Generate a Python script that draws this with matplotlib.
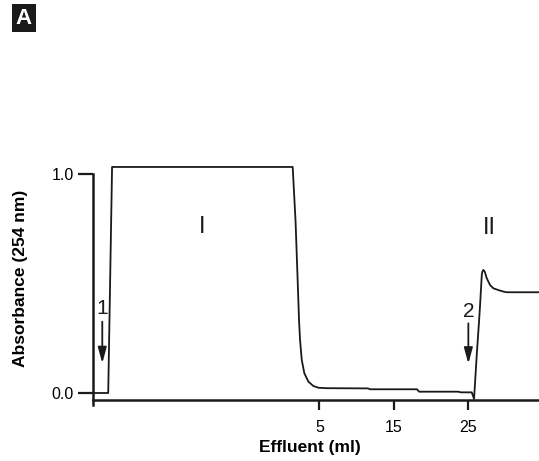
import matplotlib
matplotlib.use("Agg")
import matplotlib.pyplot as plt
from matplotlib.patches import Rectangle

plt.rcParams['font.family'] = ['Liberation Sans', 'DejaVu Sans']

# Chromatogram trace (effluent ml, absorbance at 254 nm)
effluent_ml = [-25.46, -23.45, -22.93, 1.41, 1.80, 2.17, 2.26, 2.40, 2.63, 2.98, 3.52,
               4.19, 4.87, 5.99, 11.56, 11.83, 18.17, 18.44, 23.69, 24.09, 25.54,
               25.85, 26.21, 26.52, 26.66, 26.89, 26.97, 27.1, 27.29, 27.56, 28.0,
               28.45, 29.12, 29.8, 30.26, 34.6]
absorbance = [0.0, 0.0, 1.032, 1.032, 0.78, 0.425, 0.333, 0.242, 0.151, 0.090, 0.052,
              0.032, 0.024, 0.022, 0.021, 0.017, 0.017, 0.006, 0.006, 0.003, 0.003,
              -0.027, 0.174, 0.327, 0.402, 0.539, 0.554, 0.562, 0.554, 0.524, 0.493,
              0.478, 0.470, 0.463, 0.460, 0.460]

x_ticks = [5, 15, 25]
x_ticklabels = ['5', '15', '25']
y_ticks = [0.0, 1.0]
y_ticklabels = ['0.0', '1.0']

peak_labels = ['I', 'II']
peak_label_x = [-10.85, 27.9]
peak_label_y = [0.76, 0.755]

arrow_labels = ['1', '2']
arrow_x = [-24.25, 25.08]
arrow_text_y = [0.384, 0.374]
arrow_top = [0.326, 0.318]
arrow_tip = [0.136, 0.134]

fig = plt.figure(figsize=(5.39, 4.61), dpi=100)
ax = fig.add_axes([0.1731, 0.1323, 0.8269, 0.4903])

ax.plot(effluent_ml, absorbance, color='#1a1a1a', lw=1.3, clip_on=False,
        solid_joinstyle='round')

ax.set_xlim(-25.46, 34.6)
ax.set_ylim(-0.032, 1.0)

for s in ['top', 'right']:
    ax.spines[s].set_visible(False)
for s in ['left', 'bottom']:
    ax.spines[s].set_linewidth(1.8)
    ax.spines[s].set_color('#1a1a1a')
ax.spines['left'].set_bounds(-0.055, 1.0)

ax.set_xticks(x_ticks)
ax.set_xticklabels(x_ticklabels)
ax.set_yticks(y_ticks)
ax.set_yticklabels(y_ticklabels)
ax.tick_params(axis='x', direction='out', length=7.5, width=1.6, labelsize=11.5,
               pad=7, color='#1a1a1a')
ax.tick_params(axis='y', direction='out', length=11, width=1.6, labelsize=11.5,
               pad=3, color='#1a1a1a')

ax.set_xlabel('Effluent (ml)', fontsize=12.5, fontweight='bold')
ax.xaxis.set_label_coords(0.485, -0.208)
ax.xaxis.label.set_va('center')
ax.set_ylabel('Absorbance (254 nm)', fontsize=12.5, fontweight='bold')
ax.yaxis.set_label_coords(-0.163, 0.54)
ax.yaxis.label.set_va('center')

for lab, x, y in zip(peak_labels, peak_label_x, peak_label_y):
    ax.text(x, y, lab, fontsize=17, ha='center', va='center', color='#1a1a1a')

for lab, x, ty, top, tip in zip(arrow_labels, arrow_x, arrow_text_y, arrow_top, arrow_tip):
    ax.text(x, ty, lab, fontsize=15, ha='center', va='center', color='#1a1a1a')
    ax.annotate('', xy=(x, tip), xytext=(x, top),
                arrowprops=dict(arrowstyle='-|>,head_length=0.95,head_width=0.26',
                                color='#1a1a1a', lw=1.3, shrinkA=0, shrinkB=0))

# panel label
fig.patches.append(Rectangle((12 / 539, 1 - 32 / 461), 24 / 539, 28 / 461,
                             transform=fig.transFigure, facecolor='#1a1a1a',
                             edgecolor='none'))
fig.text(24 / 539, 1 - 18.5 / 461, 'A', color='white', fontsize=16, fontweight='bold',
         ha='center', va='center')

fig.savefig('out.png', dpi=100)
